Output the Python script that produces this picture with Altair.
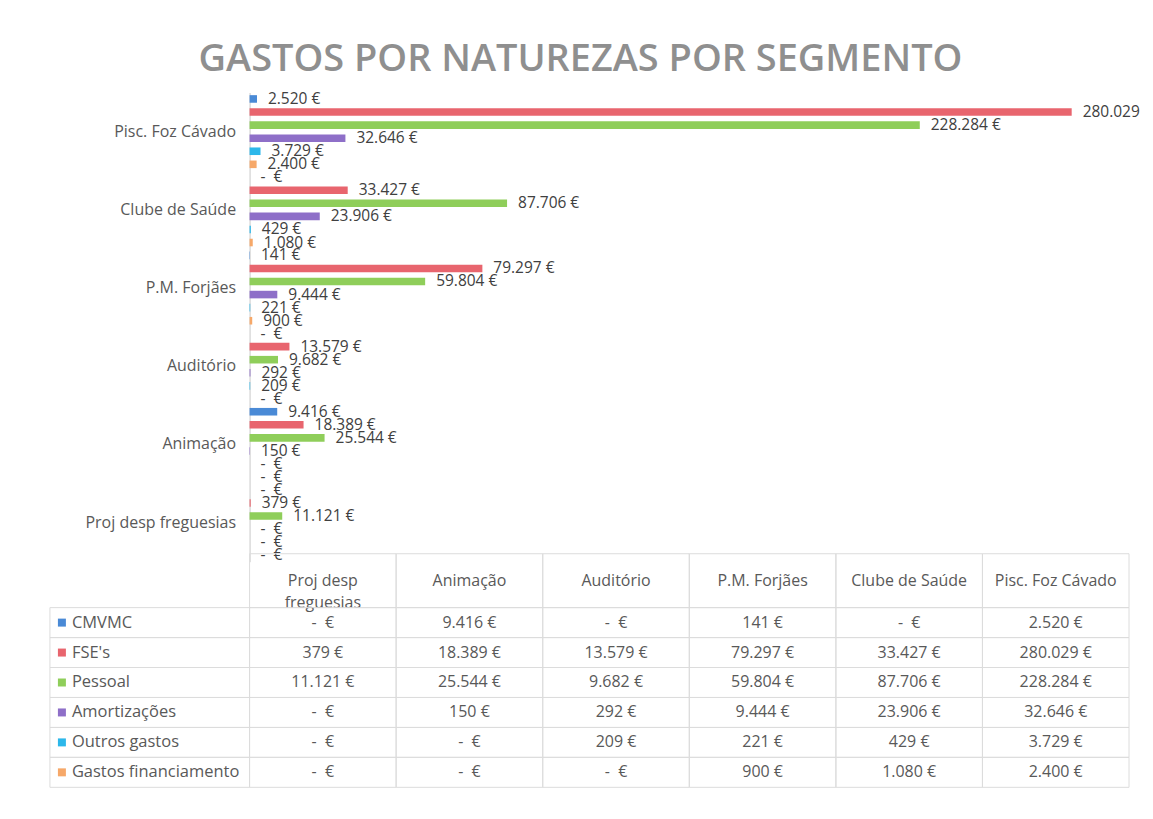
import altair as alt
import pandas as pd

# ---- data -------------------------------------------------------------
segments_table = ["Proj desp freguesias", "Animação", "Auditório",
                  "P.M. Forjães", "Clube de Saúde", "Pisc. Foz Cávado"]
segments_chart = list(reversed(segments_table))
header_labels = ["Proj desp\nfreguesias", "Animação", "Auditório",
                 "P.M. Forjães", "Clube de Saúde", "Pisc. Foz Cávado"]

series = ["CMVMC", "FSE's", "Pessoal", "Amortizações", "Outros gastos",
          "Gastos financiamento"]
colors = ["#4a8ad6", "#e8656e", "#8fce5a", "#8e6fc8", "#2cb7ea", "#f6a869"]

# values in table order (Proj, Animação, Auditório, P.M. Forjães, Clube, Pisc.)
cmvmc = [0, 9416, 0, 141, 0, 2520]
fse = [379, 18389, 13579, 79297, 33427, 280029]
pessoal = [11121, 25544, 9682, 59804, 87706, 228284]
amortizacoes = [0, 150, 292, 9444, 23906, 32646]
outros = [0, 0, 209, 221, 429, 3729]
financiamento = [0, 0, 0, 900, 1080, 2400]
values = [cmvmc, fse, pessoal, amortizacoes, outros, financiamento]


def eur(v):
    if v == 0:
        return "-\u00a0\u00a0€"
    return f"{v:,}".replace(",", ".") + " €"


rows = []
for s, vals in zip(series, values):
    for seg, v in zip(segments_table, vals):
        rows.append({"segment": seg, "series": s, "value": v, "label": eur(v)})
df = pd.DataFrame(rows)
hdr = pd.DataFrame({"segment": segments_table, "header": header_labels})
ser = pd.DataFrame({"series": series})

FONT = "Open Sans"
TXT = "#595959"
GRID = "#dcdcdc"
color_scale = alt.Scale(domain=series, range=colors)

# ---- bar chart --------------------------------------------------------
base = alt.Chart(df).encode(
    y=alt.Y("segment:N", sort=segments_chart,
            scale=alt.Scale(paddingInner=0, paddingOuter=0, range=[0, 470]),
            axis=alt.Axis(title=None, labelFontSize=16, labelColor=TXT,
                          labelFont=FONT, domainColor="#c8c8c8", ticks=False,
                          labelPadding=14, minExtent=234)),
    yOffset=alt.YOffset("series:N", sort=series,
                        scale=alt.Scale(paddingInner=0.42, paddingOuter=0.2)),
)
bars = base.mark_bar().encode(
    x=alt.X("value:Q", scale=alt.Scale(domain=[0, 305000], nice=False), axis=None),
    color=alt.Color("series:N", scale=color_scale, legend=None),
)
text_style = dict(align="left", baseline="middle", dx=11, fontSize=15.5,
                  color="#404040", font=FONT)
bar_labels = base.mark_text(**text_style).encode(
    x=alt.X("value:Q"), text="label:N").transform_filter("datum.value < 250000")
# the longest bar's label runs off the page edge, as in the scanned original
bar_labels_edge = base.mark_text(limit=63, ellipsis="\u200b", **text_style).encode(
    x=alt.X("value:Q"), text="label:N").transform_filter("datum.value >= 250000")
bar_chart = alt.layer(bars, bar_labels, bar_labels_edge).properties(width=897, height=462)

# ---- table header -----------------------------------------------------
hx = alt.X("segment:N", sort=segments_table, axis=None,
           scale=alt.Scale(paddingInner=0, paddingOuter=0))
hdr_rect = alt.Chart(hdr).mark_rect(fillOpacity=0, stroke=GRID, strokeWidth=1).encode(x=hx)
hdr_text = alt.Chart(hdr).mark_text(lineBreak="\n", fontSize=16, color=TXT,
                                    font=FONT, lineHeight=22).encode(x=hx, text="header:N")
header = alt.layer(hdr_rect, hdr_text).properties(width=881, height=54)

# ---- table body -------------------------------------------------------
by = alt.Y("series:N", sort=series, axis=None,
           scale=alt.Scale(paddingInner=0, paddingOuter=0))
cell = alt.Chart(df).mark_rect(fillOpacity=0, stroke=GRID, strokeWidth=1).encode(x=hx, y=by)
cell_text = alt.Chart(df).mark_text(fontSize=16, color=TXT, font=FONT).encode(
    x=hx, y=by, text="label:N")
lab_rect = alt.Chart(ser).mark_rect(fillOpacity=0, stroke=GRID, strokeWidth=1).encode(
    x=alt.value(-200), x2=alt.value(0), y=by)
swatch = alt.Chart(ser).mark_square(size=64, opacity=1).encode(
    x=alt.value(-188), y=by,
    color=alt.Color("series:N", scale=color_scale, legend=None))
lab_text = alt.Chart(ser).mark_text(align="left", fontSize=16.5, color=TXT,
                                    font=FONT).encode(
    x=alt.value(-178), y=by, text="series:N")
body = alt.layer(cell, cell_text, lab_rect, swatch, lab_text).properties(
    width=881, height=180)

table = alt.vconcat(header, body, spacing=0, bounds="flush")

chart = alt.vconcat(bar_chart, table, spacing=0, bounds="flush").properties(
    title=alt.TitleParams("GASTOS POR NATUREZAS POR SEGMENTO", fontSize=38,
                          font=FONT, fontWeight=600, color="#8f8f8f",
                          anchor="middle", offset=13),
    padding={"left": 8, "top": 32, "right": 0, "bottom": 5},
).configure_view(stroke=None)

chart.save("out.html", embed_options={"renderer": "svg", "actions": False})
